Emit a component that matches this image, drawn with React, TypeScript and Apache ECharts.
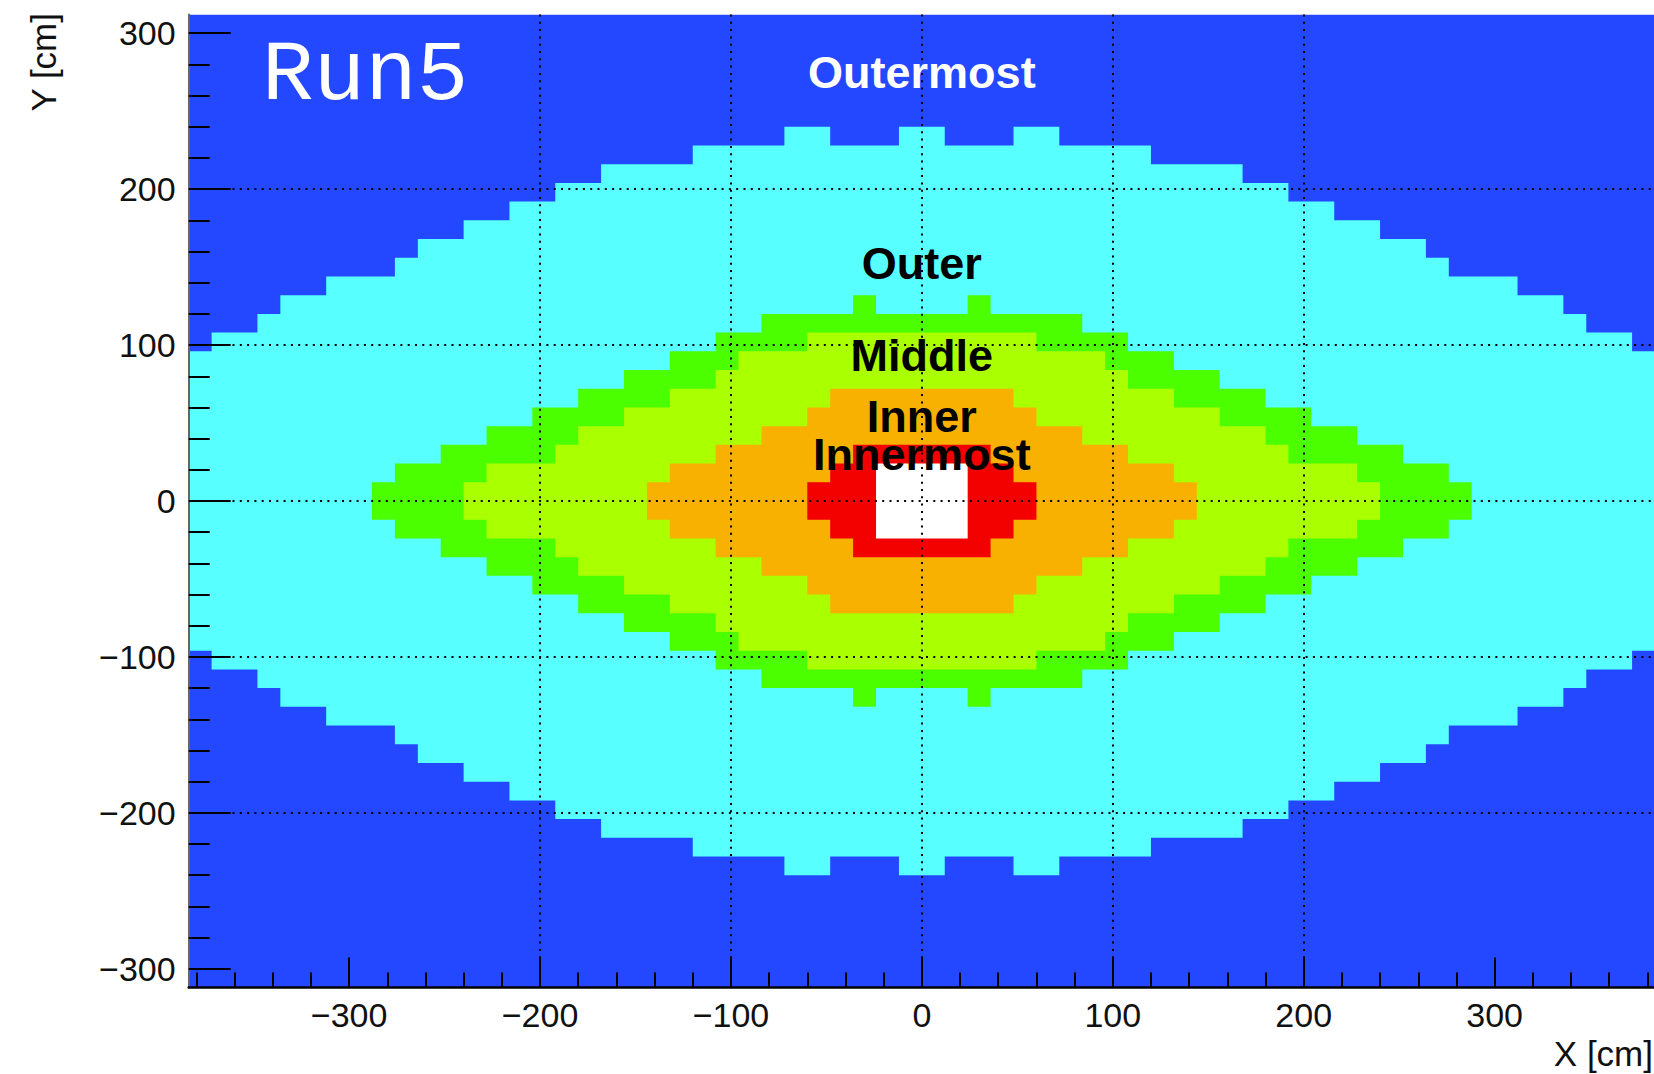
import React, { useEffect, useRef } from "react";
import * as echarts from "echarts";

// Histogram extent and bin width (cm)
const X_MIN = -384;
const X_MAX = 384;
const Y_MIN = -312;
const Y_MAX = 312;
const BIN = 12;

// Fill colour for each region level, outermost (0) to innermost (6)
const regionColors = ["#2448FF", "#57FFFF", "#4CFF00", "#AAFF00", "#F8B100", "#F30000", "#FFFFFF"];

// Upper edge (cm) of each level's footprint, one entry per 12 cm column counted
// outward from x = 0. The map is mirror-symmetric in x and in y.
const cyanTop = [
  240, 228, 228, 228, 240, 240, 228, 228, 228, 228, 216, 216, 216, 216, 204, 204,
  192, 192, 180, 180, 168, 168, 156, 144, 144, 144, 132, 132, 120, 108, 108, 96,
];
const greenTop = [
  120, 120, 132, 120, 120, 120, 120, 108, 108, 96, 96, 84, 84, 72, 72, 60,
  60, 48, 48, 36, 36, 24, 24, 12,
];
const limeTop = [108, 108, 108, 108, 108, 96, 96, 96, 84, 72, 72, 60, 60, 48, 48, 36, 24, 24, 24, 12];
const orangeTop = [72, 72, 72, 72, 60, 48, 48, 36, 36, 24, 24, 12];
const redTop = [36, 36, 36, 24, 12];
const whiteTop = [24, 24];

const levelTops: (number[] | null)[] = [null, cyanTop, greenTop, limeTop, orangeTop, redTop, whiteTop];

const tickValues = [-300, -200, -100, 0, 100, 200, 300];

const regionLabels = [
  { name: "Outermost", x: 0, y: 275, color: "#FFFFFF" },
  { name: "Outer", x: 0, y: 152, color: "#000000" },
  { name: "Middle", x: 0, y: 93, color: "#000000" },
  { name: "Inner", x: 0, y: 54, color: "#000000" },
  { name: "Innermost", x: 0, y: 30, color: "#000000" },
];

// Outline of the union of cells |y| < top(|x|) as one closed polygon (data coords)
function outline(tops: number[]): number[][] {
  const n = tops.length;
  const pts: number[][] = [];
  for (let k = n - 1; k >= 0; k--) pts.push([-(k + 1) * BIN, tops[k]], [-k * BIN, tops[k]]);
  for (let k = 0; k < n; k++) pts.push([k * BIN, tops[k]], [(k + 1) * BIN, tops[k]]);
  for (let k = n - 1; k >= 0; k--) pts.push([(k + 1) * BIN, -tops[k]], [k * BIN, -tops[k]]);
  for (let k = 0; k < n; k++) pts.push([-k * BIN, -tops[k]], [-(k + 1) * BIN, -tops[k]]);
  return pts;
}

const fullFrame = [
  [X_MIN, Y_MAX],
  [X_MAX, Y_MAX],
  [X_MAX, Y_MIN],
  [X_MIN, Y_MIN],
];

const fmt = (v: number) => (v < 0 ? "\u2212" + Math.abs(v) : String(v));

const labelFont = { fontFamily: "Liberation Sans", fontSize: 34, color: "#111111" };

export default function App() {
  const ref = useRef<HTMLDivElement>(null);

  useEffect(() => {
    if (!ref.current) return;
    const chart = echarts.init(ref.current, null, { renderer: "svg", width: 1654, height: 1074 });

    const axisCommon = (splitNumber: number, major: number, minor: number, lineColor: string, lineWidth: number) => ({
      type: "value" as const,
      splitNumber,
      z: 5,
      axisLine: { show: true, onZero: false, lineStyle: { color: lineColor, width: lineWidth } },
      axisTick: { show: true, inside: true, length: major, customValues: tickValues, lineStyle: { color: "#000", width: 2 } },
      minorTick: { show: true, splitNumber: 5, length: minor, lineStyle: { color: "#000", width: 2 } },
      splitLine: {
        show: true,
        showMinLine: false,
        showMaxLine: false,
        lineStyle: { color: "#000", width: 2, type: [2, 5.3] },
      },
    });

    chart.setOption({
      animation: false,
      backgroundColor: "#FFFFFF",
      grid: {
        left: 188.7,
        top: 14.5,
        width: 1466.3,
        height: 973,
        containLabel: false,
        outerBoundsMode: "none",
      },
      xAxis: {
        ...axisCommon(8, 30, 15, "#000", 2.5),
        min: X_MIN,
        max: X_MAX,
        axisLabel: { show: true, customValues: tickValues, margin: 10, formatter: fmt, ...labelFont },
      },
      yAxis: {
        ...axisCommon(6, 42, 21, "#666", 2),
        min: Y_MIN,
        max: Y_MAX,
        axisLabel: { show: true, customValues: tickValues, margin: 13, formatter: fmt, ...labelFont },
      },
      series: [
        {
          type: "custom",
          coordinateSystem: "cartesian2d",
          silent: true,
          clip: true,
          z: 2,
          data: regionColors.map((_, i) => [i]),
          renderItem: (_params: any, api: any) => {
            const level = api.value(0) as number;
            const tops = levelTops[level];
            const pts = tops ? outline(tops) : fullFrame;
            return {
              type: "polygon",
              shape: { points: pts.map((p) => api.coord(p)) },
              style: { fill: regionColors[level], stroke: null },
            };
          },
        },
        {
          type: "scatter",
          silent: true,
          z: 8,
          symbolSize: 1,
          itemStyle: { color: "rgba(0,0,0,0)", opacity: 1 },
          data: regionLabels.map((l) => ({
            value: [l.x, l.y],
            name: l.name,
            label: { color: l.color },
          })),
          label: {
            show: true,
            position: "inside",
            opacity: 1,
            formatter: (p: any) => p.name,
            fontFamily: "Liberation Sans",
            fontWeight: "bold",
            fontSize: 45,
          },
        },
      ],
      graphic: [
        {
          type: "text",
          z: 20,
          x: 262,
          y: 76,
          style: {
            text: "Run5",
            fill: "#FFFFFF",
            fontFamily: "Liberation Mono",
            fontSize: 86,
            textAlign: "left",
            textVerticalAlign: "middle",
            align: "left",
            verticalAlign: "middle",
          },
        },
        {
          type: "text",
          z: 20,
          x: 43,
          y: 13,
          rotation: Math.PI / 2,
          style: {
            text: "Y [cm]",
            fill: "#111111",
            fontFamily: "Liberation Sans",
            fontSize: 35,
            textAlign: "right",
            textVerticalAlign: "middle",
            align: "right",
            verticalAlign: "middle",
          },
        },
        {
          type: "text",
          z: 20,
          x: 1653,
          y: 1053,
          style: {
            text: "X [cm]",
            fill: "#111111",
            fontFamily: "Liberation Sans",
            fontSize: 35,
            textAlign: "right",
            textVerticalAlign: "middle",
            align: "right",
            verticalAlign: "middle",
          },
        },
      ],
    });

    return () => chart.dispose();
  }, []);

  return <div ref={ref} style={{ position: "absolute", left: 0, top: 0, width: 1654, height: 1074 }} />;
}
